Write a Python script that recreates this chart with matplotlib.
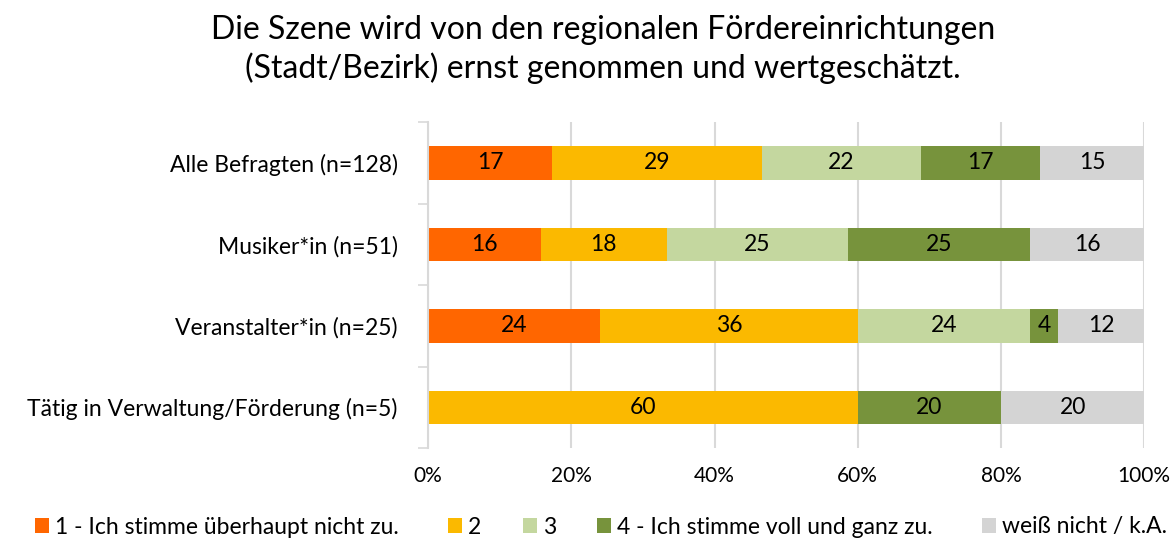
import matplotlib
matplotlib.use("Agg")
import matplotlib.pyplot as plt
import numpy as np

plt.rcParams['font.family'] = ['Lato', 'DejaVu Sans']

categories = ["Alle Befragten (n=128)", "Musiker*in (n=51)", "Veranstalter*in (n=25)",
              "Tätig in Verwaltung/Förderung (n=5)"]
series_names = ["1 - Ich stimme überhaupt nicht zu.", "2", "3",
                "4 - Ich stimme voll und ganz zu.", "weiß nicht / k.A."]
s1 = [17.3, 15.7, 24, 0]
s2 = [29.3, 17.6, 36, 60]
s3 = [22.2, 25.4, 24, 0]
s4 = [16.6, 25.4, 4, 20]
s5 = [14.6, 15.9, 12, 20]
colors = ["#FF6600", "#FBB900", "#C4D79F", "#77933C", "#D4D4D4"]
xticks = [0, 20, 40, 60, 80, 100]
xticklabels = ["0%", "20%", "40%", "60%", "80%", "100%"]
title = "Die Szene wird von den regionalen Fördereinrichtungen\n(Stadt/Bezirk) ernst genommen und wertgeschätzt."

fig = plt.figure(figsize=(11.76, 5.38), dpi=100)
ax = fig.add_axes([0.364, 0.167, 0.609, 0.606])

y = np.arange(len(categories))
left = np.zeros(len(categories))
handles = []
for vals, name, c in zip([s1, s2, s3, s4, s5], series_names, colors):
    vals = np.array(vals, dtype=float)
    b = ax.barh(y, vals, left=left, height=0.41, color=c, label=name, zorder=3)
    handles.append(b)
    for yi, (l, v) in enumerate(zip(left, vals)):
        if v > 0:
            ax.text(l + v / 2, yi, f"{int(round(v))}", ha="center", va="center",
                    fontsize=16.5, color="black", zorder=4)
    left += vals

ax.set_xlim(0, 100)
ax.set_ylim(len(categories) - 0.5, -0.5)
ax.set_yticks(y)
ax.set_yticklabels(categories, fontsize=16.5)
ax.set_yticks(np.arange(len(categories) + 1) - 0.5, minor=True)
ax.tick_params(axis="y", which="major", length=0, pad=22)
ax.tick_params(axis="y", which="minor", length=7, color="#D9D9D9", width=1.2)
ax.set_xticks(xticks)
ax.set_xticklabels(xticklabels, fontsize=15)
ax.tick_params(axis="x", length=0, pad=13)
ax.grid(axis="x", color="#D9D9D9", linewidth=1.5, zorder=0)
for s in ["top", "right", "bottom"]:
    ax.spines[s].set_visible(False)
ax.spines["left"].set_color("#D9D9D9")
ax.spines["left"].set_linewidth(1.5)
ax.spines["left"].set_zorder(5)

fig.text(0.513, 0.972, title, ha="center", va="top", fontsize=23, linespacing=1.3)

# legend entries placed individually (uneven spacing as in the reference)
legend_x = [35, 448, 523, 597, 982]
for h, x in zip(handles, legend_x):
    fig.legend(handles=[h], loc="center left", bbox_to_anchor=(x / 1176, 11 / 538),
               frameon=False, fontsize=16.5, handlelength=0.62, handleheight=0.62,
               handletextpad=0.25, borderpad=0, borderaxespad=0)

fig.savefig("out.png", dpi=100)
